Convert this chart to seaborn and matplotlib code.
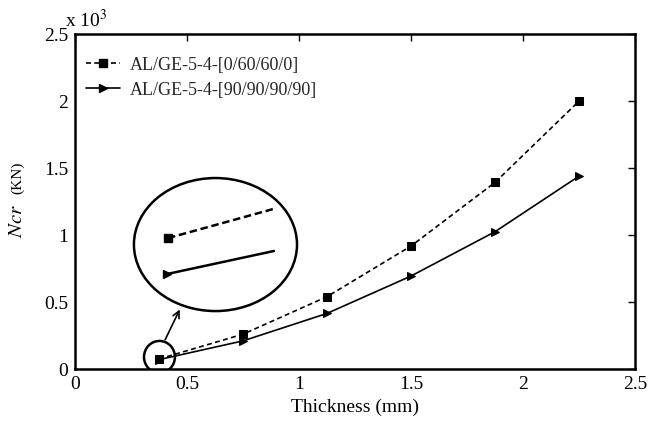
import numpy as np
import pandas as pd
import matplotlib
matplotlib.use("Agg")
import matplotlib.pyplot as plt
import seaborn as sns
from matplotlib.patches import Ellipse, FancyArrowPatch
from matplotlib.lines import Line2D

thickness = [0.375, 0.75, 1.125, 1.5, 1.875, 2.25]
ncr_0_60 = [0.075, 0.26, 0.54, 0.918, 1.393, 2.0]
ncr_90 = [0.07, 0.21, 0.415, 0.694, 1.025, 1.44]
series_names = ["AL/GE-5-4-[0/60/60/0]", "AL/GE-5-4-[90/90/90/90]"]
x_ticks = [0, 0.5, 1, 1.5, 2, 2.5]
y_ticks = [0, 0.5, 1, 1.5, 2, 2.5]

sns.set_theme(style="white")
plt.rcParams['font.family'] = ['Liberation Serif', 'DejaVu Serif']
plt.rcParams['mathtext.fontset'] = 'stix'

df = pd.DataFrame({
    "t": thickness * 2,
    "n": ncr_0_60 + ncr_90,
    "s": [series_names[0]] * len(thickness) + [series_names[1]] * len(thickness),
})

fig = plt.figure(figsize=(6.5, 4.21), dpi=100)
ax = fig.add_axes([0.1154, 0.1235, 0.8616, 0.7955])

sns.lineplot(data=df, x="t", y="n", hue="s", style="s",
             palette=["black", "black"], dashes=[(3, 2), ""],
             markers=["s", ">"], markersize=6, linewidth=1.2,
             markeredgecolor="black", ax=ax, legend=False)

handles = [Line2D([], [], color="black", ls=(0, (3, 2)), marker="s", ms=6, lw=1.2),
           Line2D([], [], color="black", ls="-", marker=">", ms=6, lw=1.2)]
ax.legend(handles, series_names, loc="upper left", bbox_to_anchor=(0.0, 0.965),
          frameon=False, fontsize=13, handlelength=1.9, borderaxespad=0.2,
          labelspacing=0.45, handletextpad=0.55)

ax.set_xlim(0, 2.5)
ax.set_ylim(0, 2.5)
ax.set_xticks(x_ticks)
ax.set_yticks(y_ticks)
ax.set_xticklabels([f"{v:g}" for v in x_ticks])
ax.set_yticklabels([f"{v:g}" for v in y_ticks])
ax.tick_params(direction="in", length=5, width=1, top=True, right=True,
               labelsize=14, colors="black", pad=5)
for sp in ax.spines.values():
    sp.set_color("black")
    sp.set_linewidth(1.8)

ax.set_xlabel("Thickness (mm)", fontsize=14, color="black")
ax.set_ylabel("")
fig.text(0.027, 0.475, "$Ncr$", rotation=90, fontsize=15, ha="center", va="center", color="black")
fig.text(0.027, 0.577, "(KN)", rotation=90, fontsize=11, ha="center", va="center", color="black")
fig.text(0.1, 0.926, r"x 10$^3$", fontsize=14, ha="left", va="bottom", color="black")

# zoom decorations
ax.add_patch(Ellipse((0.627, 0.929), 0.728, 0.993, fill=False, ec="black", lw=1.8))
ax.add_patch(Ellipse((0.377, 0.09), 0.138, 0.239, fill=False, ec="black", lw=1.8))
ax.add_patch(FancyArrowPatch((0.397, 0.20), (0.473, 0.463), arrowstyle="->",
                             mutation_scale=12, color="black", lw=1.2))
ax.plot([0.415, 0.884], [0.977, 1.194], color="black", ls=(0, (3, 1.5)), lw=1.8)
ax.plot([0.415], [0.977], marker="s", color="black", ms=6)
ax.plot([0.411, 0.888], [0.709, 0.881], color="black", ls="-", lw=1.8)
ax.plot([0.411], [0.709], marker=">", color="black", ms=6)

fig.savefig("out.png", dpi=100)
